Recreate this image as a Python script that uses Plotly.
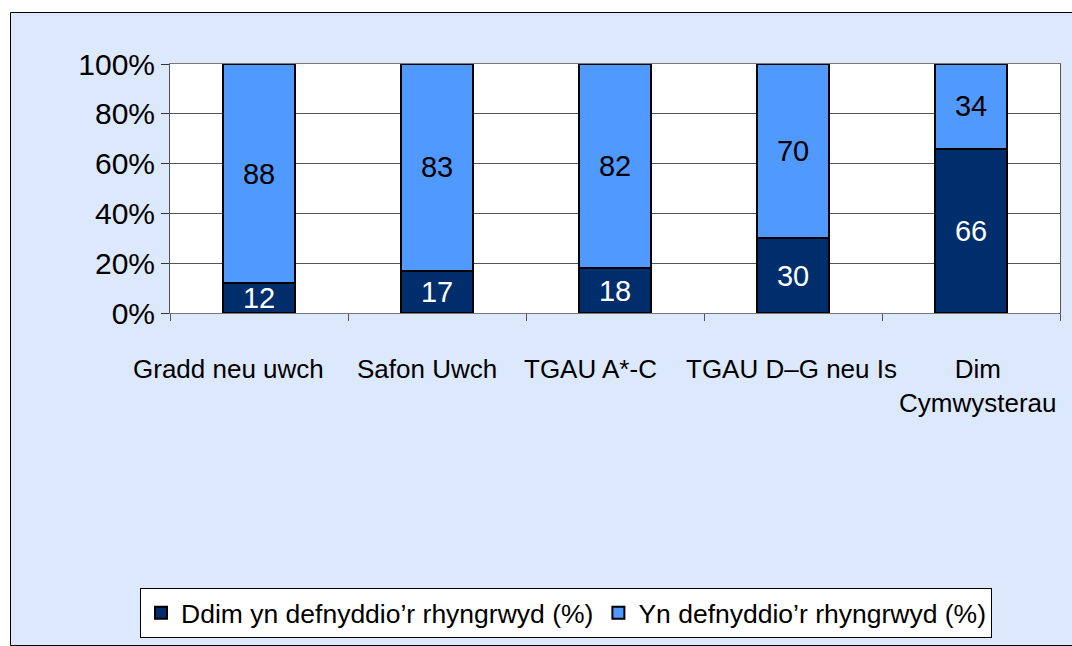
import plotly.graph_objects as go

categories = ["Gradd neu uwch", "Safon Uwch", "TGAU A*-C", "TGAU D–G neu Is", "Dim Cymwysterau"]
category_labels = ["Gradd neu uwch", "Safon Uwch", "TGAU A*-C", "TGAU D–G neu Is", "Dim<br>Cymwysterau"]
not_using = [12, 17, 18, 30, 66]
using = [88, 83, 82, 70, 34]
series_names = ["Ddim yn defnyddio’r rhyngrwyd (%)", "Yn defnyddio’r rhyngrwyd (%)"]
y_ticks = [0, 20, 40, 60, 80, 100]
y_tick_labels = ["0%", "20%", "40%", "60%", "80%", "100%"]

DARK = "#002d6b"
LIGHT = "#5099ff"
BG = "#dce9fc"
FONT = "Liberation Sans, Arial, sans-serif"

fig = go.Figure()
for values, name, colour, text_colour in [
    (not_using, series_names[0], DARK, "white"),
    (using, series_names[1], LIGHT, "black"),
]:
    fig.add_trace(
        go.Bar(
            x=categories,
            y=values,
            name=name,
            marker={"color": colour, "line": {"color": "#000000", "width": 2}},
            text=values,
            texttemplate="%{text}",
            textposition="inside",
            insidetextanchor="middle",
            constraintext="none",
            textangle=0,
            textfont={"color": text_colour, "size": 29, "family": FONT},
        )
    )


# paper coords: plot area spans pixels x 170..1060, y 64..313
def px_x(p):
    return (p - 170) / 890


def px_y(p):
    return (313 - p) / 249


shapes = [
    # white strips outside the light-blue frame
    dict(type="rect", xref="paper", yref="paper", x0=px_x(-5), x1=px_x(1080),
         y0=px_y(12), y1=px_y(-5), fillcolor="white", line={"width": 0}, layer="above"),
    dict(type="rect", xref="paper", yref="paper", x0=px_x(-5), x1=px_x(10),
         y0=px_y(660), y1=px_y(-5), fillcolor="white", line={"width": 0}, layer="above"),
    dict(type="rect", xref="paper", yref="paper", x0=px_x(10.5), x1=px_x(1085),
         y0=px_y(645.5), y1=px_y(12.5), fillcolor="rgba(0,0,0,0)",
         line={"color": "#000000", "width": 1}, layer="above"),
]

# category labels nudged sideways like the original (Excel spreads them out)
label_shifts = [-31, -10, -25, -2, 6]
for cat, label, shift in zip(categories, category_labels, label_shifts):
    fig.add_annotation(
        x=cat,
        xref="x",
        y=px_y(352),
        yref="paper",
        text=label,
        showarrow=False,
        xshift=shift,
        xanchor="center",
        yanchor="top",
        align="center",
        font={"size": 26, "family": FONT, "color": "black"},
    )

fig.update_layout(
    barmode="stack",
    bargap=0.6,
    width=1072,
    height=646,
    margin={"l": 170, "r": 12, "t": 64, "b": 333, "autoexpand": False},
    paper_bgcolor=BG,
    plot_bgcolor="white",
    font={"family": FONT, "color": "black"},
    showlegend=True,
    legend={
        "orientation": "h",
        "x": px_x(140),
        "y": px_y(588),
        "xanchor": "left",
        "yanchor": "top",
        "bgcolor": "white",
        "bordercolor": "#000000",
        "borderwidth": 1,
        "font": {"size": 26.5, "family": FONT},
        "traceorder": "normal",
    },
    shapes=shapes,
)
fig.update_xaxes(
    range=[-0.5, len(categories) - 0.5],
    showticklabels=False,
    tickson="boundaries",
    ticks="outside",
    ticklen=7,
    tickcolor="#555555",
    showline=True,
    linecolor="#777777",
    mirror=True,
    showgrid=False,
)
fig.update_yaxes(
    range=[0, 100],
    tickvals=y_ticks,
    ticktext=y_tick_labels,
    tickfont={"size": 30, "family": FONT},
    ticks="outside",
    ticklen=8,
    tickcolor="#333333",
    showline=True,
    linecolor="#555555",
    mirror=True,
    gridcolor="#555555",
    gridwidth=1,
    zeroline=False,
)

fig.write_html(
    "out.html",
    config={"displayModeBar": False},
    post_script="document.body.style.margin='0';document.body.style.overflow='hidden';",
)
